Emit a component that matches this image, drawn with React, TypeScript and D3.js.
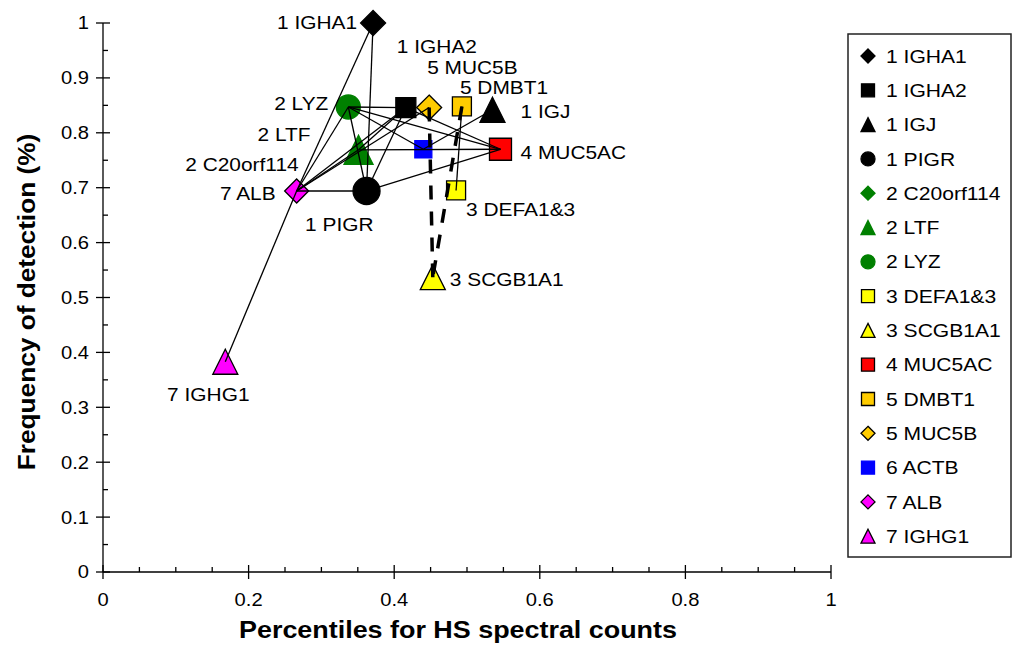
import React from "react";
import * as d3 from "d3";

// ---------- data ----------
const genes = [
  "1 IGHA1", "1 IGHA2", "1 IGJ", "1 PIGR", "2 C20orf114", "2 LTF", "2 LYZ",
  "3 DEFA1&3", "3 SCGB1A1", "4 MUC5AC", "5 DMBT1", "5 MUC5B", "6 ACTB", "7 ALB", "7 IGHG1",
];
const percentiles = [0.371, 0.416, 0.535, 0.362, 0.266, 0.351, 0.337, 0.485, 0.453, 0.546, 0.493, 0.448, 0.44, 0.266, 0.168];
const frequencies = [1.0, 0.846, 0.842, 0.694, 0.694, 0.769, 0.847, 0.695, 0.537, 0.77, 0.848, 0.846, 0.77, 0.694, 0.383];

const solidLinks: [string, string][] = [
  ["1 IGHA1", "7 ALB"],
  ["1 IGHA1", "1 PIGR"],
  ["2 LYZ", "1 IGHA2"],
  ["2 LYZ", "6 ACTB"],
  ["2 LYZ", "4 MUC5AC"],
  ["2 LYZ", "1 PIGR"],
  ["2 LYZ", "7 ALB"],
  ["2 LTF", "4 MUC5AC"],
  ["1 IGHA2", "7 ALB"],
  ["1 IGHA2", "2 LTF"],
  ["1 IGHA2", "1 PIGR"],
  ["1 IGHA2", "4 MUC5AC"],
  ["7 ALB", "5 MUC5B"],
  ["7 ALB", "1 PIGR"],
  ["7 ALB", "2 LTF"],
  ["7 ALB", "7 IGHG1"],
  ["1 PIGR", "4 MUC5AC"],
  ["1 IGJ", "6 ACTB"],
  ["5 DMBT1", "3 DEFA1&3"],
];
const dashedLinks: [string, string][] = [
  ["5 MUC5B", "3 SCGB1A1"],
  ["5 DMBT1", "3 SCGB1A1"],
];

const xTicks = [0, 0.2, 0.4, 0.6, 0.8, 1];
const yTicks = [0, 0.1, 0.2, 0.3, 0.4, 0.5, 0.6, 0.7, 0.8, 0.9, 1];
const xTitle = "Percentiles for HS spectral counts";
const yTitle = "Frequency of detection (%)";

// ---------- styles ----------
type Shape = "diamond" | "square" | "triangle" | "circle";
const markerStyle: Record<string, { shape: Shape; fill: string; stroke: string; size: number }> = {
  "1 IGHA1": { shape: "diamond", fill: "#000", stroke: "#000", size: 25 },
  "1 IGHA2": { shape: "square", fill: "#000", stroke: "#000", size: 20 },
  "1 IGJ": { shape: "triangle", fill: "#000", stroke: "#000", size: 25 },
  "1 PIGR": { shape: "circle", fill: "#000", stroke: "#000", size: 27 },
  "2 C20orf114": { shape: "diamond", fill: "#008000", stroke: "#008000", size: 22 },
  "2 LTF": { shape: "triangle", fill: "#008000", stroke: "#008000", size: 29 },
  "2 LYZ": { shape: "circle", fill: "#008000", stroke: "#008000", size: 24 },
  "3 DEFA1&3": { shape: "square", fill: "#ffff00", stroke: "#000", size: 19 },
  "3 SCGB1A1": { shape: "triangle", fill: "#ffff00", stroke: "#000", size: 25 },
  "4 MUC5AC": { shape: "square", fill: "#ff0000", stroke: "#000", size: 22 },
  "5 DMBT1": { shape: "square", fill: "#ffcc00", stroke: "#000", size: 19 },
  "5 MUC5B": { shape: "diamond", fill: "#ffcc00", stroke: "#000", size: 25 },
  "6 ACTB": { shape: "square", fill: "#0000ff", stroke: "#0000ff", size: 17 },
  "7 ALB": { shape: "diamond", fill: "#ff00ff", stroke: "#000", size: 24 },
  "7 IGHG1": { shape: "triangle", fill: "#ff00ff", stroke: "#000", size: 25 },
};
const labelOffset: Record<string, { dx: number; dy: number; anchor: string }> = {
  "1 IGHA1": { dx: -16, dy: -1, anchor: "end" },
  "1 IGHA2": { dx: -9, dy: -61, anchor: "start" },
  "1 IGJ": { dx: 28, dy: 2, anchor: "start" },
  "1 PIGR": { dx: 7, dy: 33, anchor: "end" },
  "2 C20orf114": { dx: 2, dy: -27, anchor: "end" },
  "2 LTF": { dx: -48, dy: -15, anchor: "end" },
  "2 LYZ": { dx: -20, dy: -4, anchor: "end" },
  "3 DEFA1&3": { dx: 10, dy: 19, anchor: "start" },
  "3 SCGB1A1": { dx: 17, dy: 2, anchor: "start" },
  "4 MUC5AC": { dx: 20, dy: 3, anchor: "start" },
  "5 DMBT1": { dx: -2, dy: -19, anchor: "start" },
  "5 MUC5B": { dx: -2, dy: -40, anchor: "start" },
  "6 ACTB": { dx: 0, dy: 0, anchor: "none" },
  "7 ALB": { dx: -21, dy: 2, anchor: "end" },
  "7 IGHG1": { dx: -17, dy: 33, anchor: "middle" },
};

const W = 1016;
const H = 645;
const FONT = "'Liberation Sans', Arial, Helvetica, sans-serif";

const x = d3.scaleLinear().domain([0, 1]).range([103, 831]);
const y = d3.scaleLinear().domain([0, 1]).range([572, 23]);

function markerPath(shape: Shape, s: number): string {
  const p = d3.path();
  const h = s / 2;
  if (shape === "square") {
    p.rect(-h, -h, s, s);
  } else if (shape === "diamond") {
    p.moveTo(0, -h); p.lineTo(h, 0); p.lineTo(0, h); p.lineTo(-h, 0); p.closePath();
  } else if (shape === "triangle") {
    p.moveTo(0, -h); p.lineTo(h, h); p.lineTo(-h, h); p.closePath();
  } else {
    p.arc(0, 0, h, 0, Math.PI * 2); p.closePath();
  }
  return p.toString();
}

function T(props: { x: number; y: number; anchor?: string; size: number; bold?: boolean; k?: number; rotate?: number; children: React.ReactNode }) {
  const { anchor = "start", size, bold, k = 1.12, rotate = 0 } = props;
  return (
    <text
      transform={`translate(${props.x},${props.y}) rotate(${rotate}) scale(${k},1)`}
      textAnchor={anchor}
      dy="0.36em"
      fontSize={size}
      fontWeight={bold ? "bold" : "normal"}
      fontFamily={FONT}
      fill="#000"
    >
      {props.children}
    </text>
  );
}

export default function App() {
  const pos: Record<string, [number, number]> = {};
  genes.forEach((g, i) => { pos[g] = [x(percentiles[i]), y(frequencies[i])]; });

  const xMinor = d3.range(0, 1.0001, 0.05).filter((v) => Math.abs(v * 5 - Math.round(v * 5)) > 1e-6);
  const yMinor = d3.range(0.05, 1, 0.1);

  const legX = 848, legY = 34, legW = 163, legH = 523;
  const legStep = 34.3;

  return (
    <svg width={W} height={H} style={{ position: "absolute", left: 0, top: 0, background: "#fff" }}>
      <rect x={0} y={0} width={W} height={H} fill="#fff" />
      {/* axes */}
      <g stroke="#000" strokeWidth={1.3}>
        <line x1={x(0)} x2={x(1)} y1={y(0)} y2={y(0)} />
        <line x1={x(0)} x2={x(0)} y1={y(0)} y2={y(1)} />
        {xTicks.map((t) => <line key={"xt" + t} x1={x(t)} x2={x(t)} y1={y(0) - 7} y2={y(0) + 7} />)}
        {xMinor.map((t) => <line key={"xm" + t} x1={x(t)} x2={x(t)} y1={y(0) - 5} y2={y(0)} />)}
        {yTicks.map((t) => <line key={"yt" + t} x1={x(0) - 7} x2={x(0) + 7} y1={y(t)} y2={y(t)} />)}
        {yMinor.map((t) => <line key={"ym" + t} x1={x(0)} x2={x(0) + 5} y1={y(t)} y2={y(t)} />)}
      </g>
      {xTicks.map((t) => <T key={"xl" + t} x={x(t)} y={600} anchor="middle" size={18}>{d3.format("~g")(t)}</T>)}
      {yTicks.map((t) => <T key={"yl" + t} x={89} y={y(t)} anchor="end" size={18}>{d3.format("~g")(t)}</T>)}
      <T x={458} y={630} anchor="middle" size={23} bold k={1.17}>{xTitle}</T>
      <T x={27} y={302} anchor="middle" size={23} bold k={1.14} rotate={-90}>{yTitle}</T>

      {/* markers */}
      {genes.map((g) => {
        const st = markerStyle[g];
        const [px, py] = pos[g];
        return (
          <path key={"m" + g} d={markerPath(st.shape, st.size)} transform={`translate(${px},${py})`}
            fill={st.fill} stroke={st.stroke} strokeWidth={1.3} />
        );
      })}
      {/* links */}
      <g stroke="#000" strokeWidth={1.3}>
        {solidLinks.map(([a, b], i) => (
          <line key={"s" + i} x1={pos[a][0]} y1={pos[a][1]} x2={pos[b][0]} y2={pos[b][1]} />
        ))}
      </g>
      <g stroke="#000" strokeWidth={3.5} strokeDasharray="14,12">
        {dashedLinks.map(([a, b], i) => (
          <line key={"d" + i} x1={pos[a][0]} y1={pos[a][1]} x2={pos[b][0]} y2={pos[b][1]} />
        ))}
      </g>
      {/* labels */}
      {genes.map((g) => {
        const o = labelOffset[g];
        if (o.anchor === "none") return null;
        const [px, py] = pos[g];
        return <T key={"l" + g} x={px + o.dx} y={py + o.dy} anchor={o.anchor} size={18.5} k={1.13}>{g}</T>;
      })}

      {/* legend */}
      <rect x={legX} y={legY} width={legW} height={legH} fill="#fff" stroke="#222" strokeWidth={1.5} />
      {genes.map((g, i) => {
        const st = markerStyle[g];
        const cy = 56 + i * legStep;
        return (
          <g key={"lg" + g}>
            <path d={markerPath(st.shape, st.shape === "square" ? 13 : 14)} transform={`translate(868,${cy})`}
              fill={st.fill} stroke={st.stroke} strokeWidth={1.3} />
            <T x={886} y={cy} size={18.5} k={1.14}>{g}</T>
          </g>
        );
      })}
    </svg>
  );
}
